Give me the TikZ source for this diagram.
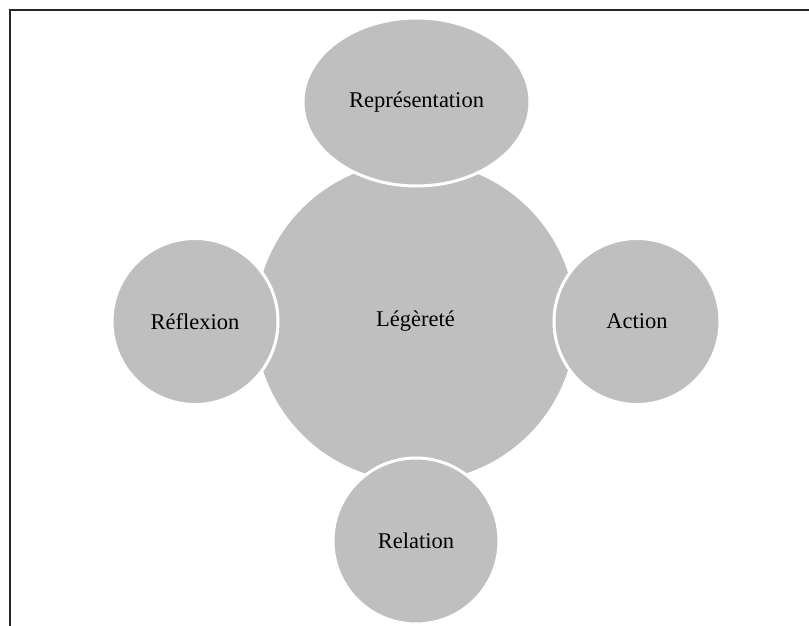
\documentclass[tikz,border=0pt]{standalone}
\usepackage{fontspec}
\setmainfont{Liberation Serif}
\usetikzlibrary{shapes.geometric}
\definecolor{petal}{RGB}{191,191,191}
\tikzset{
  hub/.style={circle,fill=petal,inner sep=0pt,minimum size=320pt,font=\fontsize{22.5}{27}\selectfont},
  petalnode/.style={circle,fill=petal,draw=white,line width=3pt,inner sep=0pt,minimum size=166pt,font=\fontsize{22.5}{27}\selectfont},
}
\begin{document}
\begin{tikzpicture}[x=1pt,y=1pt]
\useasboundingbox (0,0) rectangle (809,626);
\coordinate (F0) at (9.5,-5);
\coordinate (F1) at (9.5,615.5);
\coordinate (F2) at (815,615.5);
\draw [line width=2pt,black!85] (F0) -- (F1) -- (F2);
\node [hub] (L) at (415.5,304.5) {Légèreté};
\node [petalnode,ellipse,minimum width=227pt,minimum height=168pt] (Rep) at (416.5,524) {Représentation};
\node [petalnode] (Ref) at (195,304.5) {Réflexion};
\node [petalnode] (Act) at (637,304.5) {Action};
\node [petalnode] (Rel) at (416,85) {Relation};
\end{tikzpicture}
\end{document}
